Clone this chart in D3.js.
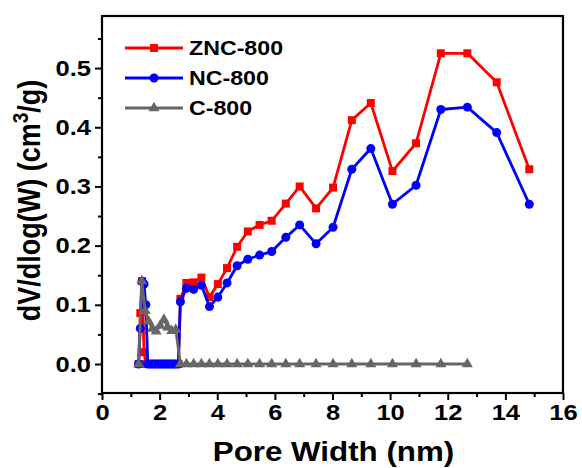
<!DOCTYPE html>
<html>
<head>
<meta charset="utf-8">
<script src="https://cdn.jsdelivr.net/npm/d3@7"></script>
<style>
  html, body { margin: 0; padding: 0; background: #fff; }
  svg { display: block; font-family: "Liberation Sans", Arial, sans-serif; font-weight: bold; }
</style>
</head>
<body>
<svg id="chart" width="582" height="468"></svg>
<script>
// Pore widths (nm) shared by ZNC-800 and NC-800
const poreWidth = [1.27, 1.33, 1.39, 1.46, 1.52, 1.59, 1.66, 1.73, 1.80, 1.87, 1.94, 2.01, 2.08,
  2.15, 2.22, 2.29, 2.36, 2.43, 2.50, 2.57, 2.65, 2.72, 2.93, 3.18, 3.45, 3.73, 4.02, 4.34, 4.69,
  5.06, 5.47, 5.89, 6.38, 6.86, 7.43, 8.02, 8.67, 9.33, 10.08, 10.90, 11.76, 12.68, 13.70, 14.83];
const zncValues = [0, 0.086, 0.14, 0.02, 0, 0, 0, 0, 0, 0, 0, 0, 0,
  0, 0, 0, 0, 0, 0, 0, 0, 0.11, 0.137, 0.138, 0.146, 0.113, 0.135, 0.162, 0.198,
  0.224, 0.235, 0.242, 0.271, 0.300, 0.263, 0.298, 0.412, 0.441, 0.326, 0.373, 0.525, 0.525, 0.476, 0.329];
const ncValues = [0, 0.06, 0.14, 0.135, 0.10, 0, 0, 0, 0, 0, 0, 0, 0,
  0, 0, 0, 0, 0, 0, 0, 0, 0.105, 0.128, 0.126, 0.133, 0.097, 0.113, 0.137, 0.166,
  0.177, 0.184, 0.190, 0.214, 0.235, 0.203, 0.231, 0.329, 0.364, 0.270, 0.302, 0.430, 0.434, 0.391, 0.270];

// Pore widths (nm) and values for C-800
const poreWidthC = [1.27, 1.38, 1.50, 1.62, 1.75, 1.88, 2.02, 2.15, 2.28, 2.42, 2.56, 2.72,
  2.93, 3.18, 3.45, 3.73, 4.02, 4.34, 4.69, 5.06, 5.47, 5.89, 6.38, 6.86, 7.43, 8.02, 8.67,
  9.33, 10.08, 10.90, 11.76, 12.68];
const cValues = [0, 0.14, 0.09, 0.072, 0.06, 0.055, 0.065, 0.075, 0.062, 0.056, 0.058, 0,
  0, 0, 0, 0, 0, 0, 0, 0, 0, 0, 0, 0, 0, 0, 0,
  0, 0, 0, 0, 0];

const seriesNames = ["ZNC-800", "NC-800", "C-800"];
const xTicks = [0, 2, 4, 6, 8, 10, 12, 14, 16];
const yTicks = [0.0, 0.1, 0.2, 0.3, 0.4, 0.5];

const svg = d3.select("#chart");
const plot = { left: 102, right: 563, top: 16, bottom: 393 };
// Horizontal text widening used throughout the figure's lettering
const stretch = 1.16;

const x = d3.scaleLinear().domain([0, 16]).range([plot.left, plot.right]);
const y = d3.scaleLinear().domain([-0.049, 0.588]).range([plot.bottom, plot.top]);

const series = [
  { name: seriesNames[0], xs: poreWidth, ys: zncValues, color: "#ff0000", symbol: d3.symbolSquare, size: 64 },
  { name: seriesNames[1], xs: poreWidth, ys: ncValues, color: "#0000ff", symbol: d3.symbolCircle, size: 64 },
  { name: seriesNames[2], xs: poreWidthC, ys: cValues, color: "#666666", symbol: d3.symbolTriangle, size: 52 }
];

// Lines and markers
const line = d3.line().x(d => x(d[0])).y(d => y(d[1]));
series.forEach(s => {
  const pts = s.xs.map((v, i) => [v, s.ys[i]]);
  const g = svg.append("g");
  g.append("path").attr("d", line(pts)).attr("fill", "none")
    .attr("stroke", s.color).attr("stroke-width", 2.8).attr("stroke-linejoin", "round");
  g.selectAll("path.m").data(pts).join("path").attr("class", "m")
    .attr("d", d3.symbol().type(s.symbol).size(s.size))
    .attr("transform", d => `translate(${x(d[0])},${y(d[1])})`)
    .attr("fill", s.color);
});

// Axes
const xAxis = svg.append("g").attr("transform", `translate(0,${plot.bottom})`)
  .call(d3.axisBottom(x).tickValues(xTicks).tickSize(7).tickPadding(4).tickFormat(d3.format("d")));
svg.append("g").attr("transform", `translate(0,${plot.bottom})`)
  .call(d3.axisBottom(x).tickValues(d3.range(1, 16, 2)).tickSize(4).tickFormat(""));
const yAxis = svg.append("g").attr("transform", `translate(${plot.left},0)`)
  .call(d3.axisLeft(y).tickValues(yTicks).tickSize(7).tickPadding(4).tickFormat(d3.format(".1f")));
svg.append("g").attr("transform", `translate(${plot.left},0)`)
  .call(d3.axisLeft(y).tickValues([-0.05, 0.05, 0.15, 0.25, 0.35, 0.45, 0.55]).tickSize(4).tickFormat(""));

svg.selectAll(".domain").remove();
svg.selectAll(".tick line").attr("stroke", "#000").attr("stroke-width", 2);
svg.selectAll(".tick text").attr("fill", "#000").style("font-size", "22px")
  .style("font-family", "'Liberation Sans', Arial, sans-serif").style("font-weight", "bold")
  .attr("transform", `scale(${stretch},1)`);
xAxis.selectAll(".tick text").attr("dy", "0.71em");
yAxis.selectAll(".tick text").attr("x", -11 / stretch);

// Frame
svg.append("rect").attr("x", plot.left).attr("y", plot.top)
  .attr("width", plot.right - plot.left).attr("height", plot.bottom - plot.top)
  .attr("fill", "none").attr("stroke", "#000").attr("stroke-width", 2.2);

// Axis titles
svg.append("g").attr("transform", `translate(${(plot.left + plot.right) / 2 + 1},461) scale(${stretch},1)`)
  .append("text").attr("text-anchor", "middle").style("font-size", "27px").text("Pore Width (nm)");
const yt = svg.append("text")
  .attr("transform", `translate(40,${(plot.top + plot.bottom) / 2 - 4}) scale(${stretch},1) rotate(-90)`)
  .attr("text-anchor", "middle").style("font-size", "27px");
yt.append("tspan").text("dV/dlog(W) (cm");
yt.append("tspan").attr("dy", -10).style("font-size", "19px").text("3");
yt.append("tspan").attr("dy", 10).text("/g)");

// Legend
const legend = svg.append("g");
series.forEach((s, i) => {
  const ly = 48 + i * 30;
  legend.append("line").attr("x1", 125).attr("x2", 183).attr("y1", ly).attr("y2", ly)
    .attr("stroke", s.color).attr("stroke-width", 2.8);
  legend.append("path").attr("d", d3.symbol().type(s.symbol).size(s.size)())
    .attr("transform", `translate(154,${ly})`).attr("fill", s.color);
  legend.append("g").attr("transform", `translate(189,${ly + 7}) scale(${stretch},1)`)
    .append("text").style("font-size", "20px").text(s.name);
});
</script>
</body>
</html>
